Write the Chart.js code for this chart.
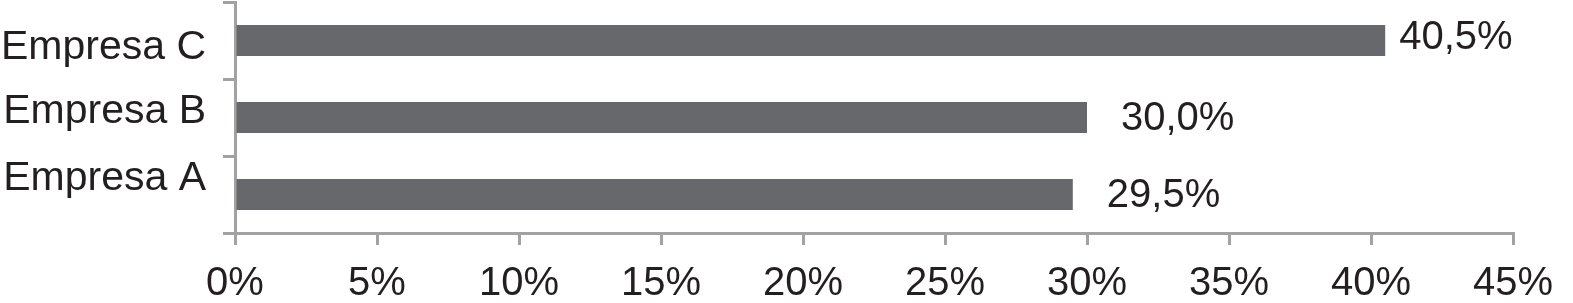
<!DOCTYPE html>
<html>
<head>
<meta charset="utf-8">
<script src="https://cdn.jsdelivr.net/npm/chart.js@4/dist/chart.umd.min.js"></script>
<style>
  html, body { margin: 0; padding: 0; background: #fff; }
  #wrap { width: 1573px; height: 303px; }
</style>
</head>
<body>
<div id="wrap"><canvas id="chart"></canvas></div>
<script>
// data
const companies = ["Empresa C", "Empresa B", "Empresa A"];
const shares = [40.5, 30.0, 29.5];
const xTicks = [0, 5, 10, 15, 20, 25, 30, 35, 40, 45];

const textColor = "#231f20";
const axisColor = "#a2a2a2";
const barColor = "#67686b";
const fontFamily = "'Liberation Sans', Arial, Helvetica, sans-serif";

// the source places its labels by hand, a bit off the bars
const labelShift = [[14, -3], [34, 1], [34, 1]];
const nameShift = [7, -6, -16];

function fmt(v) {
    return v.toFixed(1).replace(".", ",") + "%";
}

const handLabels = {
    id: "handLabels",
    afterDatasetsDraw(chart) {
        const ctx = chart.ctx;
        const meta = chart.getDatasetMeta(0);
        const yScale = chart.scales.y;
        ctx.save();
        ctx.fillStyle = textColor;
        ctx.textBaseline = "middle";

        // values next to the bars
        ctx.font = "40px " + fontFamily;
        ctx.textAlign = "left";
        meta.data.forEach((bar, i) => {
            const s = labelShift[i];
            ctx.fillText(fmt(shares[i]), bar.x + s[0], bar.y + s[1]);
        });

        // category names left of the axis
        ctx.font = "41px " + fontFamily;
        ctx.textAlign = "right";
        companies.forEach((name, i) => {
            const y = yScale.getPixelForValue(i) + nameShift[i];
            ctx.fillText(name, yScale.right - 29, y);
        });
        ctx.restore();
    }
};

const ctx = document.getElementById("chart").getContext("2d");
new Chart(ctx, {
    type: "bar",
    data: {
        labels: companies,
        datasets: [{
            data: shares,
            backgroundColor: barColor,
            borderWidth: 0,
            categoryPercentage: 0.8,
            barPercentage: 0.5
        }]
    },
    options: {
        indexAxis: "y",
        responsive: true,
        maintainAspectRatio: false,
        animation: false,
        layout: { padding: { top: 2, right: 60, left: 0, bottom: 0 } },
        plugins: {
            legend: { display: false },
            tooltip: { enabled: false }
        },
        scales: {
            x: {
                min: 0,
                max: 45,
                afterBuildTicks: scale => {
                    scale.ticks = xTicks.map(v => ({ value: v }));
                },
                afterFit: scale => {
                    scale.height = 70;
                    scale.paddingLeft = 0;
                    scale.paddingRight = 0;
                },
                ticks: {
                    callback: v => v + "%",
                    color: textColor,
                    font: { size: 40, family: fontFamily },
                    padding: 15,
                    maxRotation: 0,
                    autoSkip: false
                },
                grid: {
                    drawOnChartArea: false,
                    drawTicks: true,
                    tickLength: 12,
                    color: axisColor,
                    lineWidth: 3
                },
                border: { color: axisColor, width: 3 }
            },
            y: {
                afterFit: scale => {
                    scale.width = 235;
                    scale.paddingTop = 0;
                    scale.paddingBottom = 0;
                },
                ticks: { display: false },
                grid: {
                    offset: true,
                    drawOnChartArea: false,
                    drawTicks: true,
                    tickLength: 12,
                    color: axisColor,
                    lineWidth: 3
                },
                border: { color: axisColor, width: 3 }
            }
        }
    },
    plugins: [handLabels]
});
</script>
</body>
</html>
